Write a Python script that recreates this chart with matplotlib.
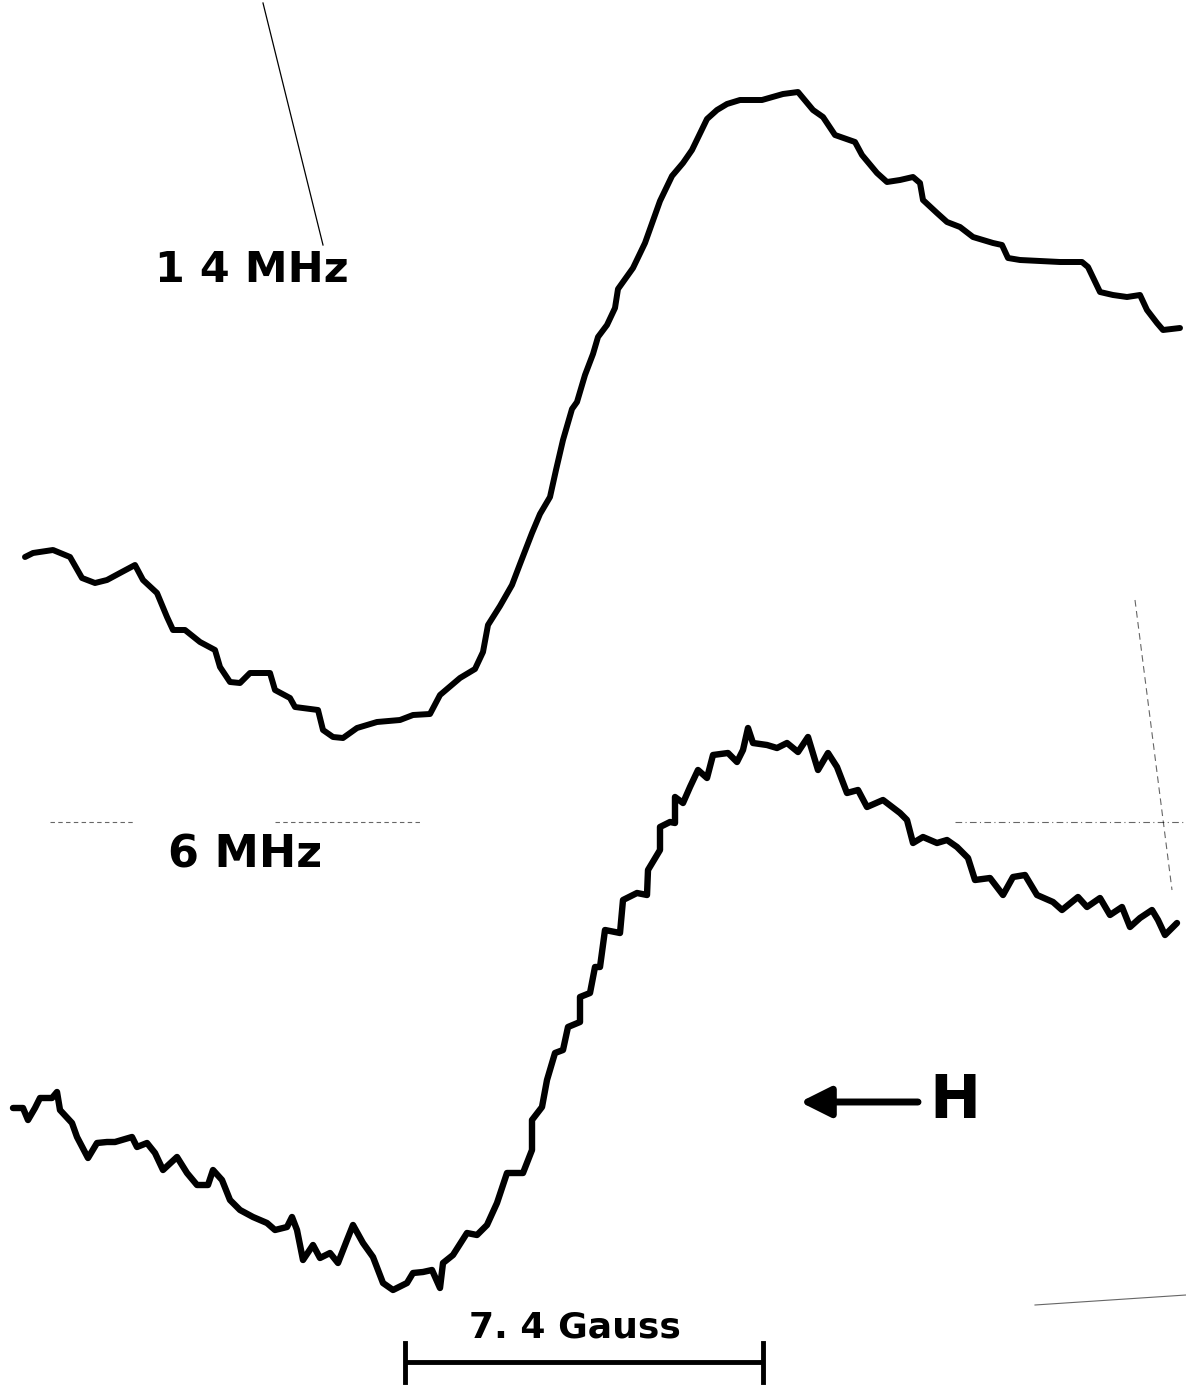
import matplotlib.pyplot as plt

# trace, x = field position, y = signal (page units, down = larger)
trace_14_x = [25, 33, 53, 70, 82, 95, 107, 120, 135, 143, 157, 167, 173, 185, 200, 215, 220, 230, 240,
              250, 270, 275, 290, 295, 318, 323, 333, 343, 357, 377, 400, 413, 430, 440, 460, 475, 483,
              488, 500, 512, 520, 532, 540, 550, 556, 563, 572, 577, 585, 593, 598, 607, 615, 618, 633,
              645, 660, 672, 683, 692, 707, 717, 727, 740, 762, 783, 798, 813, 823, 835, 855, 862, 877,
              887, 900, 913, 920, 923, 937, 947, 960, 973, 993, 1002, 1008, 1020, 1060, 1082, 1088, 1100,
              1113, 1127, 1140, 1147, 1157, 1163, 1180]
trace_14_y = [557, 553, 550, 557, 578, 583, 580, 573, 565, 580, 593, 617, 630, 630, 642, 650, 667, 682, 683,
              673, 673, 690, 698, 707, 710, 730, 737, 738, 728, 722, 720, 715, 714, 695, 678, 669, 652,
              625, 606, 585, 564, 533, 514, 497, 470, 440, 409, 402, 375, 354, 337, 325, 308, 289, 268,
              243, 201, 176, 163, 150, 119, 110, 104, 100, 100, 94, 92, 110, 117, 135, 142, 155, 173,
              182, 180, 177, 183, 200, 213, 222, 227, 237, 243, 245, 258, 260, 262, 262, 267, 292,
              295, 297, 295, 310, 323, 330, 328]

trace_6_x = [13, 23, 28, 35, 40, 52, 57, 60, 72, 77, 88, 97, 107, 115, 132, 137, 147, 155, 163, 177, 187,
             197, 208, 213, 222, 230, 240, 253, 267, 275, 287, 292, 297, 303, 313, 320, 330, 338, 347,
             353, 363, 373, 383, 393, 407, 413, 423, 432, 440, 443, 453, 467, 477, 487, 497, 507, 523,
             532, 532, 542, 547, 555, 563, 568, 580, 580, 590, 595, 600, 605, 620, 623, 637, 647, 648,
             660, 660, 670, 675, 675, 683, 690, 698, 707, 713, 728, 737, 743, 748, 753, 767, 777, 787,
             798, 808, 818, 828, 837, 847, 858, 867, 883, 900, 907, 913, 923, 937, 947, 957, 968, 975,
             990, 1003, 1013, 1025, 1037, 1053, 1062, 1078, 1087, 1100, 1110, 1122, 1130, 1140, 1152,
             1158, 1165, 1177]
trace_6_y = [1108, 1108, 1120, 1108, 1098, 1098, 1092, 1110, 1123, 1137, 1158, 1143, 1142, 1142, 1137,
             1147, 1143, 1153, 1170, 1157, 1173, 1185, 1185, 1170, 1180, 1200, 1210, 1217, 1223, 1230,
             1227, 1217, 1230, 1260, 1245, 1258, 1253, 1263, 1240, 1225, 1243, 1257, 1283, 1290, 1283,
             1273, 1272, 1270, 1288, 1263, 1255, 1233, 1235, 1225, 1203, 1173, 1173, 1150, 1120, 1107,
             1080, 1053, 1050, 1027, 1022, 997, 993, 967, 967, 930, 933, 900, 893, 895, 870, 850, 827,
             822, 823, 797, 803, 787, 770, 778, 755, 753, 762, 750, 728, 743, 745, 748, 743, 752, 737,
             770, 753, 767, 793, 790, 807, 800, 813, 820, 843, 837, 843, 840, 847, 858, 880, 878, 895,
             877, 875, 895, 902, 910, 897, 907, 898, 915, 907, 927, 918, 910, 920, 935, 923]

labels = ['1 4 MHz', '6 MHz']
scale_label = '7. 4 Gauss'
field_label = 'H'
scale_start, scale_end = 405, 763

fig = plt.figure(figsize=(11.86, 13.87), dpi=100)
ax = fig.add_axes([0, 0, 1, 1])
ax.set_xlim(0, 1186)
ax.set_ylim(1387, 0)
ax.axis('off')

# the two recorder traces
ax.plot(trace_14_x, trace_14_y, color='black', lw=4.3, solid_joinstyle='round', solid_capstyle='round')
ax.plot(trace_6_x, trace_6_y, color='black', lw=4.6, solid_joinstyle='round', solid_capstyle='round')

# labels
ax.text(252, 270, labels[0], fontsize=31, fontweight='bold', ha='center', va='center')
ax.text(245, 855, labels[1], fontsize=32, fontweight='bold', ha='center', va='center')

# thin pen stroke at top left
ax.plot([263, 323], [3, 245], color='black', lw=0.9)

# faint dashed scan lines
ax.plot([50, 135], [822, 822], color='black', lw=0.8, ls=(0, (4, 3)), alpha=0.6)
ax.plot([275, 420], [822, 822], color='black', lw=0.8, ls=(0, (4, 3)), alpha=0.6)
ax.plot([955, 1186], [822, 822], color='black', lw=0.8, ls=(0, (6, 3, 1, 3)), alpha=0.6)
ax.plot([1135, 1172], [600, 890], color='black', lw=0.8, ls=(0, (6, 4)), alpha=0.6)
ax.plot([1035, 1186], [1305, 1295], color='black', lw=0.8, alpha=0.6)

# field direction arrow
ax.annotate('', xy=(800, 1102), xytext=(918, 1102),
            arrowprops=dict(arrowstyle='-|>', lw=5, mutation_scale=46, color='black',
                            shrinkA=0, shrinkB=0))
ax.text(955, 1101, field_label, fontsize=44, fontweight='bold', ha='center', va='center')

# scale bar
ax.plot([scale_start, scale_end], [1362, 1362], color='black', lw=3.5, solid_capstyle='butt')
ax.plot([scale_start, scale_start], [1343, 1382], color='black', lw=3.5)
ax.plot([scale_end, scale_end], [1343, 1382], color='black', lw=3.5)
ax.text(575, 1327, scale_label, fontsize=26, fontweight='bold', ha='center', va='center')

plt.savefig('out.png', dpi=100)
